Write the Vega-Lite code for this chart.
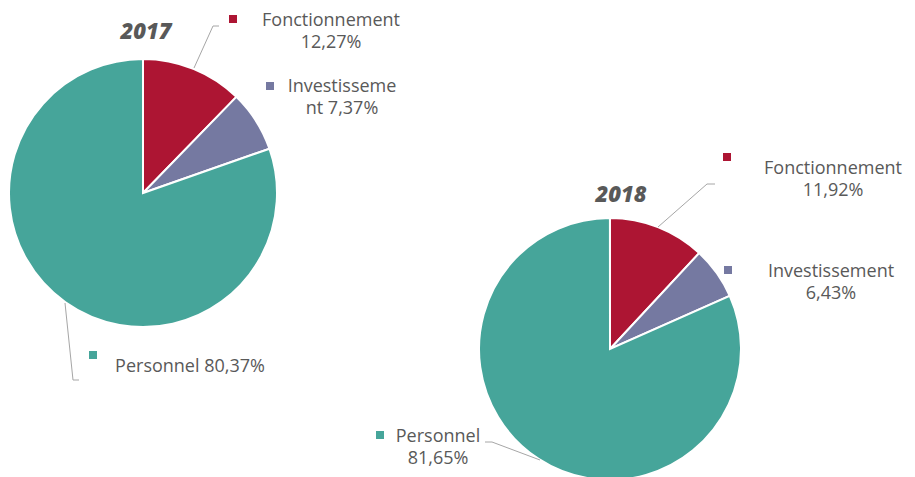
{
  "$schema": "https://vega.github.io/schema/vega-lite/v6.json",
  "width": 915,
  "height": 477,
  "padding": 0,
  "autosize": "none",
  "background": "white",
  "config": {"view": {"stroke": null}},
  "data": {"values": [
    {"annee": "2017", "categorie": "Fonctionnement", "pct": 12.27, "libelle": "Fonctionnement|12,27%"},
    {"annee": "2017", "categorie": "Investissement", "pct": 7.37, "libelle": "Investisseme|nt 7,37%"},
    {"annee": "2017", "categorie": "Personnel", "pct": 80.37, "libelle": "Personnel 80,37%"},
    {"annee": "2018", "categorie": "Fonctionnement", "pct": 11.92, "libelle": "Fonctionnement|11,92%"},
    {"annee": "2018", "categorie": "Investissement", "pct": 6.43, "libelle": "Investissement|6,43%"},
    {"annee": "2018", "categorie": "Personnel", "pct": 81.65, "libelle": "Personnel|81,65%"}
  ]},
  "encoding": {
    "x": {"field": "annee", "type": "ordinal", "scale": {"type": "point", "domain": ["2017", "2018"], "range": [143, 610], "padding": 0}, "axis": null},
    "y": {"field": "annee", "type": "ordinal", "scale": {"type": "point", "domain": ["2017", "2018"], "range": [193, 349], "padding": 0}, "axis": null}
  },
  "layer": [
    {
      "transform": [{"filter": "datum.annee == '2017'"}],
      "mark": {"type": "arc", "radius": 134, "stroke": "white", "strokeWidth": 2},
      "encoding": {
        "theta": {"field": "pct", "type": "quantitative", "stack": true},
        "color": {"field": "categorie", "type": "nominal", "scale": {"domain": ["Fonctionnement", "Investissement", "Personnel"], "range": ["#AD1533", "#7579A1", "#46A59A"]}, "legend": null},
        "order": {"field": "categorie", "sort": "ascending"}
      }
    },
    {
      "transform": [{"filter": "datum.annee == '2018'"}],
      "mark": {"type": "arc", "radius": 131, "stroke": "white", "strokeWidth": 2},
      "encoding": {
        "theta": {"field": "pct", "type": "quantitative", "stack": true},
        "color": {"field": "categorie", "type": "nominal", "legend": null},
        "order": {"field": "categorie", "sort": "ascending"}
      }
    },
    {
      "transform": [{"filter": "datum.annee == '2017' && datum.categorie == 'Fonctionnement'"}],
      "mark": {"type": "rule", "stroke": "#A6A6A6", "strokeWidth": 1, "xOffset": 51, "yOffset": -125, "x2Offset": 70, "y2Offset": -167},
      "encoding": {"x2": {"field": "annee"}, "y2": {"field": "annee"}}
    },
    {
      "transform": [{"filter": "datum.annee == '2017' && datum.categorie == 'Fonctionnement'"}],
      "mark": {"type": "rule", "stroke": "#A6A6A6", "strokeWidth": 1, "xOffset": 70, "yOffset": -167, "x2Offset": 76, "y2Offset": -167},
      "encoding": {"x2": {"field": "annee"}, "y2": {"field": "annee"}}
    },
    {
      "transform": [{"filter": "datum.annee == '2017' && datum.categorie == 'Personnel'"}],
      "mark": {"type": "rule", "stroke": "#A6A6A6", "strokeWidth": 1, "xOffset": -78, "yOffset": 110, "x2Offset": -70, "y2Offset": 187},
      "encoding": {"x2": {"field": "annee"}, "y2": {"field": "annee"}}
    },
    {
      "transform": [{"filter": "datum.annee == '2017' && datum.categorie == 'Personnel'"}],
      "mark": {"type": "rule", "stroke": "#A6A6A6", "strokeWidth": 1, "xOffset": -70, "yOffset": 187, "x2Offset": -64, "y2Offset": 187},
      "encoding": {"x2": {"field": "annee"}, "y2": {"field": "annee"}}
    },
    {
      "transform": [{"filter": "datum.annee == '2018' && datum.categorie == 'Fonctionnement'"}],
      "mark": {"type": "rule", "stroke": "#A6A6A6", "strokeWidth": 1, "xOffset": 48, "yOffset": -122, "x2Offset": 97, "y2Offset": -165},
      "encoding": {"x2": {"field": "annee"}, "y2": {"field": "annee"}}
    },
    {
      "transform": [{"filter": "datum.annee == '2018' && datum.categorie == 'Fonctionnement'"}],
      "mark": {"type": "rule", "stroke": "#A6A6A6", "strokeWidth": 1, "xOffset": 97, "yOffset": -165, "x2Offset": 105, "y2Offset": -165},
      "encoding": {"x2": {"field": "annee"}, "y2": {"field": "annee"}}
    },
    {
      "transform": [{"filter": "datum.annee == '2018' && datum.categorie == 'Personnel'"}],
      "mark": {"type": "rule", "stroke": "#A6A6A6", "strokeWidth": 1, "xOffset": -125, "yOffset": 93, "x2Offset": -118, "y2Offset": 93},
      "encoding": {"x2": {"field": "annee"}, "y2": {"field": "annee"}}
    },
    {
      "transform": [{"filter": "datum.annee == '2018' && datum.categorie == 'Personnel'"}],
      "mark": {"type": "rule", "stroke": "#A6A6A6", "strokeWidth": 1, "xOffset": -118, "yOffset": 93, "x2Offset": -70, "y2Offset": 111},
      "encoding": {"x2": {"field": "annee"}, "y2": {"field": "annee"}}
    },
    {
      "transform": [{"filter": "datum.annee == '2017' && datum.categorie == 'Personnel'"}],
      "mark": {"type": "text", "dx": 3, "dy": -154, "align": "center", "baseline": "alphabetic", "font": "Open Sans", "fontSize": 22, "fontWeight": 800, "fontStyle": "italic", "fill": "#595959"},
      "encoding": {"text": {"field": "annee"}}
    },
    {
      "transform": [{"filter": "datum.annee == '2018' && datum.categorie == 'Personnel'"}],
      "mark": {"type": "text", "dx": 11, "dy": -147, "align": "center", "baseline": "alphabetic", "font": "Open Sans", "fontSize": 22, "fontWeight": 800, "fontStyle": "italic", "fill": "#595959"},
      "encoding": {"text": {"field": "annee"}}
    },
    {
      "transform": [{"filter": "datum.annee == '2017' && datum.categorie == 'Fonctionnement'"}],
      "mark": {"type": "text", "dx": 188, "dy": -167, "align": "center", "baseline": "alphabetic", "lineBreak": "|", "lineHeight": 22, "font": "Open Sans", "fontSize": 18, "fill": "#595959"},
      "encoding": {"text": {"field": "libelle"}}
    },
    {
      "transform": [{"filter": "datum.annee == '2017' && datum.categorie == 'Investissement'"}],
      "mark": {"type": "text", "dx": 199, "dy": -101, "align": "center", "baseline": "alphabetic", "lineBreak": "|", "lineHeight": 22, "font": "Open Sans", "fontSize": 18, "fill": "#595959"},
      "encoding": {"text": {"field": "libelle"}}
    },
    {
      "transform": [{"filter": "datum.annee == '2017' && datum.categorie == 'Personnel'"}],
      "mark": {"type": "text", "dx": 47, "dy": 179, "align": "center", "baseline": "alphabetic", "lineBreak": "|", "lineHeight": 22, "font": "Open Sans", "fontSize": 18, "fill": "#595959"},
      "encoding": {"text": {"field": "libelle"}}
    },
    {
      "transform": [{"filter": "datum.annee == '2018' && datum.categorie == 'Fonctionnement'"}],
      "mark": {"type": "text", "dx": 223, "dy": -175, "align": "center", "baseline": "alphabetic", "lineBreak": "|", "lineHeight": 22, "font": "Open Sans", "fontSize": 18, "fill": "#595959"},
      "encoding": {"text": {"field": "libelle"}}
    },
    {
      "transform": [{"filter": "datum.annee == '2018' && datum.categorie == 'Investissement'"}],
      "mark": {"type": "text", "dx": 221, "dy": -72, "align": "center", "baseline": "alphabetic", "lineBreak": "|", "lineHeight": 22, "font": "Open Sans", "fontSize": 18, "fill": "#595959"},
      "encoding": {"text": {"field": "libelle"}}
    },
    {
      "transform": [{"filter": "datum.annee == '2018' && datum.categorie == 'Personnel'"}],
      "mark": {"type": "text", "dx": -172, "dy": 93, "align": "center", "baseline": "alphabetic", "lineBreak": "|", "lineHeight": 22, "font": "Open Sans", "fontSize": 18, "fill": "#595959"},
      "encoding": {"text": {"field": "libelle"}}
    },
    {
      "transform": [{"filter": "datum.annee == '2017' && datum.categorie == 'Fonctionnement'"}],
      "mark": {"type": "point", "shape": "square", "size": 64, "filled": true, "opacity": 1, "xOffset": 90, "yOffset": -174},
      "encoding": {"color": {"field": "categorie", "type": "nominal", "legend": null}}
    },
    {
      "transform": [{"filter": "datum.annee == '2017' && datum.categorie == 'Investissement'"}],
      "mark": {"type": "point", "shape": "square", "size": 64, "filled": true, "opacity": 1, "xOffset": 127, "yOffset": -107},
      "encoding": {"color": {"field": "categorie", "type": "nominal", "legend": null}}
    },
    {
      "transform": [{"filter": "datum.annee == '2017' && datum.categorie == 'Personnel'"}],
      "mark": {"type": "point", "shape": "square", "size": 64, "filled": true, "opacity": 1, "xOffset": -50, "yOffset": 162},
      "encoding": {"color": {"field": "categorie", "type": "nominal", "legend": null}}
    },
    {
      "transform": [{"filter": "datum.annee == '2018' && datum.categorie == 'Fonctionnement'"}],
      "mark": {"type": "point", "shape": "square", "size": 64, "filled": true, "opacity": 1, "xOffset": 117, "yOffset": -192},
      "encoding": {"color": {"field": "categorie", "type": "nominal", "legend": null}}
    },
    {
      "transform": [{"filter": "datum.annee == '2018' && datum.categorie == 'Investissement'"}],
      "mark": {"type": "point", "shape": "square", "size": 64, "filled": true, "opacity": 1, "xOffset": 118, "yOffset": -79},
      "encoding": {"color": {"field": "categorie", "type": "nominal", "legend": null}}
    },
    {
      "transform": [{"filter": "datum.annee == '2018' && datum.categorie == 'Personnel'"}],
      "mark": {"type": "point", "shape": "square", "size": 64, "filled": true, "opacity": 1, "xOffset": -230, "yOffset": 86},
      "encoding": {"color": {"field": "categorie", "type": "nominal", "legend": null}}
    }
  ]
}
